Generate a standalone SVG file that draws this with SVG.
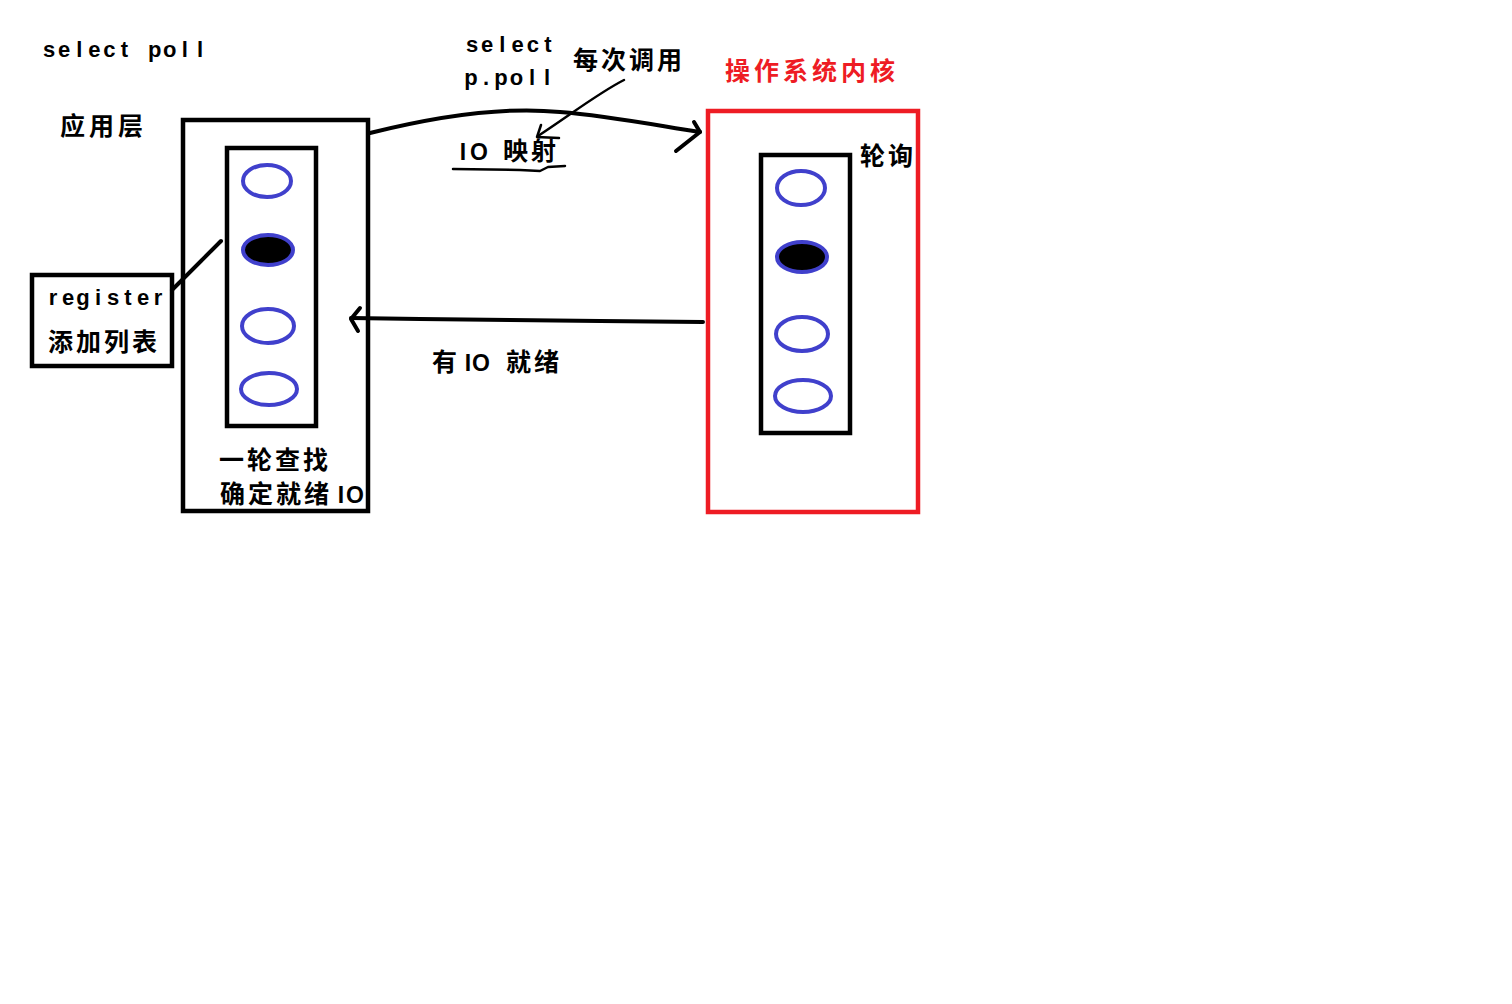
<svg xmlns="http://www.w3.org/2000/svg" width="1512" height="1004" viewBox="0 0 1512 1004">
<style>
.box{fill:none;stroke:#000;stroke-width:4.5}
.red{fill:none;stroke:#ee1c24;stroke-width:4.5}
.io{fill:none;stroke:#4040cc;stroke-width:4}
.iof{fill:#000;stroke:#4040cc;stroke-width:4}
.lat{font-family:"Liberation Sans",Arial,sans-serif;font-weight:bold;font-size:22px;fill:#000;text-anchor:middle}
.big{font-size:23px}
.cjk{font-family:"Noto Sans CJK SC","Noto Sans",sans-serif;font-weight:bold;font-size:25px;letter-spacing:3px;fill:#000}
.ln{fill:none;stroke:#000;stroke-width:4;stroke-linecap:round;stroke-linejoin:round}
.thin{fill:none;stroke:#000;stroke-width:2.5;stroke-linecap:round;stroke-linejoin:round}
</style>
<rect width="1512" height="1004" fill="#fff"/>
<text class="lat" x="49 64.1 79.2 94.3 109.4 124.5 139.6 154.7 169.8 184.9 200" y="57">select poll</text>
<text class="cjk" x="60" y="135" style="letter-spacing:4px">应用层</text>
<text class="lat" x="472 487.2 502.4 517.6 532.8 548" y="52">select</text>
<text class="lat" x="471 486 501 516.5 532 547" y="85">p.poll</text>
<text class="cjk" x="573" y="69">每次调用</text>
<text class="cjk" x="725" y="80" style="fill:#ee1c24;letter-spacing:4px">操作系统内核</text>
<text class="lat big" x="463 479" y="160">IO</text>
<text class="cjk" x="503" y="160">映射</text>

<g id="app">
<rect class="box" x="183" y="120" width="185" height="391"/>
<rect class="box" x="227" y="148" width="89" height="278"/>
<ellipse class="io" cx="267" cy="181" rx="24" ry="16"/>
<ellipse class="iof" cx="268" cy="250" rx="25" ry="15"/>
<ellipse class="io" cx="268" cy="326" rx="26" ry="17"/>
<ellipse class="io" cx="269" cy="389" rx="28" ry="16"/>
<text class="cjk" x="219" y="469">一轮查找</text>
<text class="cjk" x="220" y="503">确定就绪</text>
<text class="lat big" x="341 355" y="503">IO</text>
</g>

<g id="register">
<rect class="box" x="32" y="275" width="140" height="91"/>
<text class="lat" x="53 68 83 98 113 128 143 158" y="305">register</text>
<text class="cjk" x="48" y="351">添加列表</text>
</g>

<g id="kernel">
<rect class="red" x="708" y="111" width="210" height="401"/>
<rect class="box" x="761" y="155" width="89" height="278"/>
<ellipse class="io" cx="801" cy="188" rx="24" ry="17"/>
<ellipse class="iof" cx="802" cy="257" rx="25" ry="15"/>
<ellipse class="io" cx="802" cy="334" rx="26" ry="17"/>
<ellipse class="io" cx="803" cy="396" rx="28" ry="16"/>
<text class="cjk" x="860" y="165">轮询</text>
</g>

<text class="cjk" x="432" y="371">有</text>
<text class="lat big" x="468 481" y="371">IO</text>
<text class="cjk" x="506" y="371">就绪</text>

<g id="connectors">
<path class="ln" d="M370 133 C430 118 500 106 560 112 C610 116 660 126 700 132"/>
<path class="ln" d="M694 122 L700 132 L676 151"/>
<path class="ln" d="M172 290 L221 241"/>
<path class="ln" d="M703 322 L600 321 L510 320 L420 319 L351 318"/>
<path class="ln" d="M360 308 L351 319 L358 331"/>
<path class="thin" d="M624 80 C600 92 570 115 538 136"/>
<path class="thin" d="M541 125 L537 137 L559 138"/>
<path class="thin" d="M453 169 L520 170 L540 171 L548 167 L565 166"/>
</g>
</svg>
